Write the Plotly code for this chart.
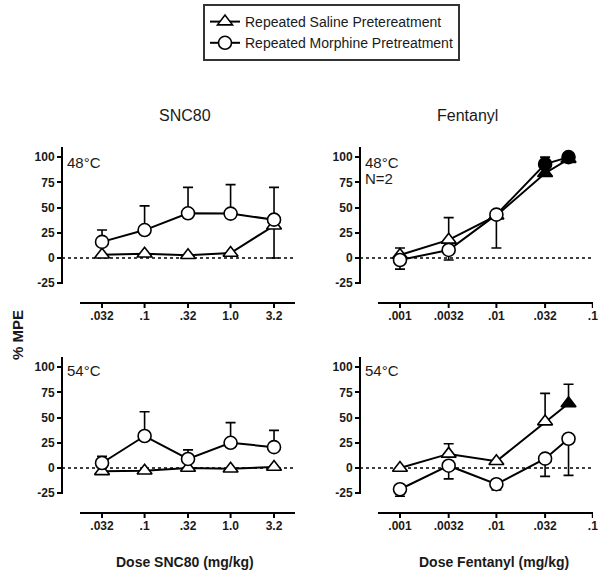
import numpy as np
import plotly.graph_objects as go

# ---------------- data ----------------
snc_doses = [0.032, 0.1, 0.32, 1.0, 3.2]
fen_doses = [0.001, 0.0032, 0.01, 0.032, 0.056]

snc_ticks = [0.032, 0.1, 0.32, 1.0, 3.2]
snc_ticktext = [".032", ".1", ".32", "1.0", "3.2"]
fen_ticks = [0.001, 0.0032, 0.01, 0.032, 0.1]
fen_ticktext = [".001", ".0032", ".01", ".032", ".1"]
y_ticks = [100, 75, 50, 25, 0, -25]

# SNC80 48C
sal_snc48 = [3.3, 4.3, 2.7, 5.0, 32.0]
sal_snc48_up = [0, 0, 0, 0, 0]
sal_snc48_dn = [0, 0, 0, 0, 32.0]
mor_snc48 = [16.0, 27.7, 44.3, 44.0, 38.0]
mor_snc48_up = [11.7, 24.0, 25.7, 28.7, 32.0]
mor_snc48_dn = [0, 0, 0, 0, 0]

# Fentanyl 48C
sal_fen48 = [3.0, 18.0, 42.0, 84.0, 98.0]
sal_fen48_up = [7.0, 22.0, 0, 0, 0]
sal_fen48_dn = [0, 0, 0, 0, 0]
sal_fen48_filled = [False, False, False, True, True]
mor_fen48 = [-2.0, 8.0, 43.0, 93.0, 100.0]
mor_fen48_up = [0, 0, 0, 7.0, 0]
mor_fen48_dn = [9.0, 10.0, 33.0, 0, 0]
mor_fen48_filled = [False, False, False, True, True]

# SNC80 54C
sal_snc54 = [-3.3, -2.7, 0.0, -0.7, 1.0]
sal_snc54_up = [0, 0, 0, 0, 0]
sal_snc54_dn = [0, 0, 0, 0, 0]
mor_snc54 = [5.0, 31.7, 9.0, 25.0, 20.7]
mor_snc54_up = [6.7, 24.0, 9.0, 20.0, 16.6]
mor_snc54_dn = [0, 0, 0, 0, 0]

# Fentanyl 54C
sal_fen54 = [0.0, 14.0, 6.7, 46.0, 64.0]
sal_fen54_up = [0, 10.0, 0, 28.0, 19.0]
sal_fen54_dn = [0, 0, 0, 0, 0]
sal_fen54_filled = [False, False, False, False, True]
mor_fen54 = [-21.0, 2.3, -16.0, 9.3, 29.0]
mor_fen54_up = [0, 0, 0, 0, 0]
mor_fen54_dn = [7.0, 13.0, 5.7, 17.6, 36.3]
mor_fen54_filled = [False, False, False, False, False]

SAL_NAME = "Repeated Saline Pretereatment"
MOR_NAME = "Repeated Morphine Pretreatment"

# ---------------- layout helpers ----------------
W, H = 602, 578
def px(x):
    return x / W
def py(y):
    return 1 - y / H

FONT = "Liberation Sans, Arial, sans-serif"
TXT = "#1a1a1a"

fig = go.Figure()

def add_series(xs, ys, up, dn, symbol, name, xa, ya, showlegend, filled=None):
    if filled is None:
        filled = [False] * len(xs)
    colors = ["black" if f else "white" for f in filled]
    fig.add_trace(go.Scatter(
        x=list(np.log10(xs)), y=ys, mode="lines+markers", name=name,
        customdata=xs, hovertemplate="dose %{customdata}<br>%{y}<extra></extra>",
        xaxis=xa, yaxis=ya, showlegend=showlegend, cliponaxis=False,
        line=dict(color="black", width=2),
        marker=dict(symbol=symbol, size=13, color=colors,
                    line=dict(color="black", width=1.6)),
        error_y=dict(type="data", symmetric=False, array=up, arrayminus=dn,
                     color="black", thickness=1.6, width=5),
    ))

panels = [
    ("x", "y", snc_doses, sal_snc48, sal_snc48_up, sal_snc48_dn, None,
     mor_snc48, mor_snc48_up, mor_snc48_dn, None),
    ("x2", "y2", fen_doses, sal_fen48, sal_fen48_up, sal_fen48_dn, sal_fen48_filled,
     mor_fen48, mor_fen48_up, mor_fen48_dn, mor_fen48_filled),
    ("x3", "y3", snc_doses, sal_snc54, sal_snc54_up, sal_snc54_dn, None,
     mor_snc54, mor_snc54_up, mor_snc54_dn, None),
    ("x4", "y4", fen_doses, sal_fen54, sal_fen54_up, sal_fen54_dn, sal_fen54_filled,
     mor_fen54, mor_fen54_up, mor_fen54_dn, mor_fen54_filled),
]

for i, (xa, ya, d, s, su, sd, sf, m, mu, md, mf) in enumerate(panels):
    add_series(d, s, su, sd, "triangle-up", SAL_NAME, xa, ya, i == 0, sf)
    add_series(d, m, mu, md, "circle", MOR_NAME, xa, ya, i == 0, mf)

tickfont = dict(family=FONT, size=12, color=TXT, weight="bold")

Y_TOP = 110.0
Y_AXIS_BOTTOM = -25.7

snc_range = [-1.751, 0.749]
fen_range = [-3.228, -0.998]

def xaxis_cfg(left, right, anchor, rng, tv, tt):
    # log10 dose scale
    return dict(type="linear", domain=[px(left), px(right)], anchor=anchor,
                range=rng, tickvals=list(np.log10(tv)), ticktext=tt,
                showline=False, ticks="", ticklabelstandoff=4,
                showgrid=False, zeroline=False, tickfont=tickfont,
                automargin=False)

def yaxis_cfg(top, line_y, line_x):
    zero_px = top + 111
    bottom_val = -(line_y - zero_px) / 1.01
    return dict(domain=[py(line_y), py(top)], anchor="free", position=px(line_x),
                range=[bottom_val, Y_TOP], tickvals=y_ticks,
                ticktext=[str(v) for v in y_ticks],
                showline=False,
                ticks="outside", ticklen=5, tickwidth=2, tickcolor="black",
                showgrid=False, zeroline=False, tickfont=tickfont,
                automargin=False)

def base_cfg(line_y, xanchor):
    # thin strip around the x-axis baseline: value v sits at pixel line_y + 6 - v
    return dict(domain=[py(line_y + 6), py(line_y - 2)], anchor=xanchor,
                range=[0, 8], visible=False, fixedrange=True,
                showgrid=False, zeroline=False)

axes_info = [
    # x axis, data y axis, baseline y axis, spine x px, baseline y px, x domain px, range, ticks
    ("x", "y", "y5", 62, 303, (80, 295), snc_range, snc_ticks),
    ("x2", "y2", "y6", 360, 303, (378, 593), fen_range, fen_ticks),
    ("x3", "y3", "y7", 62, 513, (80, 295), snc_range, snc_ticks),
    ("x4", "y4", "y8", 360, 513, (378, 593), fen_range, fen_ticks),
]

# x-axis baselines and tick marks (drawn on the x axes' own scales)
for xa, ya, yb, sx, ly, dom, rng, tv in axes_info:
    fig.add_trace(go.Scatter(x=list(rng), y=[6, 6], xaxis=xa, yaxis=yb,
                             mode="lines", line=dict(color="black", width=2),
                             showlegend=False, hoverinfo="skip"))
    tx, tyv = [], []
    for v in np.log10(tv):
        tx += [v, v, None]
        tyv += [6, 1, None]
    fig.add_trace(go.Scatter(x=tx, y=tyv, xaxis=xa, yaxis=yb,
                             mode="lines", line=dict(color="black", width=2),
                             showlegend=False, hoverinfo="skip"))

fig.update_layout(
    width=W, height=H,
    margin=dict(l=0, r=0, t=0, b=0),
    paper_bgcolor="white", plot_bgcolor="rgba(0,0,0,0)",
    font=dict(family=FONT, color=TXT),
    xaxis=xaxis_cfg(80, 295, "y", snc_range, snc_ticks, snc_ticktext),
    xaxis2=xaxis_cfg(378, 593, "y2", fen_range, fen_ticks, fen_ticktext),
    xaxis3=xaxis_cfg(80, 295, "y3", snc_range, snc_ticks, snc_ticktext),
    xaxis4=xaxis_cfg(378, 593, "y4", fen_range, fen_ticks, fen_ticktext),
    yaxis=yaxis_cfg(147, 303, 62),
    yaxis2=yaxis_cfg(147, 303, 360),
    yaxis3=yaxis_cfg(357, 513, 62),
    yaxis4=yaxis_cfg(357, 513, 360),
    yaxis5=base_cfg(303, "x"),
    yaxis6=base_cfg(303, "x2"),
    yaxis7=base_cfg(513, "x3"),
    yaxis8=base_cfg(513, "x4"),
    legend=dict(x=px(203), y=py(4), xanchor="left", yanchor="top",
                bordercolor="#333", borderwidth=2, bgcolor="white",
                font=dict(family=FONT, size=14, color=TXT),
                tracegroupgap=2),
    showlegend=True,
)

# vertical spines (stop at -25) and dotted zero lines
for xa, ya, yb, sx, ly, dom, rng, tv in axes_info:
    fig.add_shape(type="line", xref="paper", yref=ya, x0=px(sx), x1=px(sx),
                  y0=Y_AXIS_BOTTOM, y1=Y_TOP, line=dict(color="black", width=2))
    fig.add_shape(type="line", xref="paper", yref=ya, x0=px(sx), x1=px(dom[1]),
                  y0=0, y1=0, line=dict(color="black", width=1.5, dash="dot"),
                  layer="below")

def ann(text, x, y, size, bold=False, xanchor="center", angle=0):
    fig.add_annotation(text=text, x=px(x), y=py(y), xref="paper", yref="paper",
                       xanchor=xanchor, yanchor="middle", showarrow=False,
                       textangle=angle,
                       font=dict(family=FONT, size=size, color=TXT,
                                 weight="bold" if bold else "normal"))

ann("SNC80", 185, 115, 16)
ann("Fentanyl", 467, 115, 16)
ann("48°C", 65, 162, 15, xanchor="left")
ann("48°C", 363, 162, 15, xanchor="left")
ann("N=2", 363, 178, 15, xanchor="left")
ann("54°C", 65, 370, 15, xanchor="left")
ann("54°C", 363, 370, 15, xanchor="left")
ann("% MPE", 17, 335, 15, bold=True, angle=-90)
ann("Dose SNC80 (mg/kg)", 185, 562, 14, bold=True)
ann("Dose Fentanyl (mg/kg)", 494, 562, 14, bold=True)

fig.write_html("out.html",
               config={"displayModeBar": False},
               post_script="document.body.style.margin='0px';"
                           "document.body.style.overflow='hidden';")
